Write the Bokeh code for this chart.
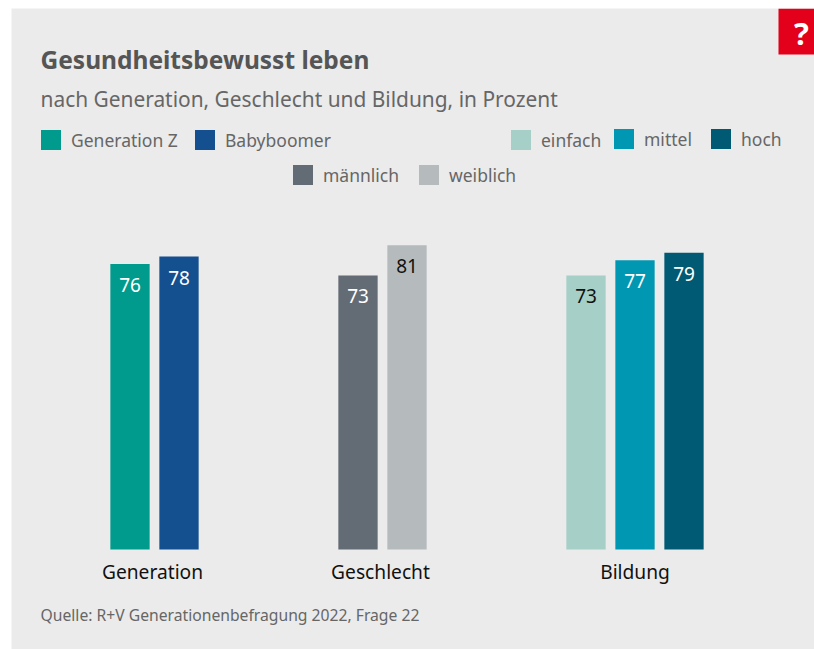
from bokeh.plotting import figure
from bokeh.models import Label, Legend, LegendItem, BoxAnnotation, ColumnDataSource, Range1d
from bokeh.core.properties import value
from bokeh.embed import file_html
from bokeh.resources import INLINE

FONT = "Noto Sans"
groups = ["Generation", "Geschlecht", "Bildung"]
group_names = [["Generation Z", "Babyboomer"], ["männlich", "weiblich"], ["einfach", "mittel", "hoch"]]
group_values = [[76, 78], [73, 81], [73, 77, 79]]
group_colors = [["#009B8C", "#144F8F"], ["#636B74", "#B5BABD"], ["#A5CFC7", "#0097B3", "#005A73"]]
value_colors = [["#FFFFFF", "#FFFFFF"], ["#FFFFFF", "#111111"], ["#111111", "#FFFFFF", "#FFFFFF"]]

title = "Gesundheitsbewusst leben"
subtitle = "nach Generation, Geschlecht und Bildung, in Prozent"
source_text = "Quelle: R+V Generationenbefragung 2022, Frage 22"

# layout, in image pixels
W, H = 814, 649
first_bar = [129.5, 357.5, 585.5]
pitch = 49
bar_w = 39.3
label_x = [152, 380, 634.5]
legend_pos = {"Generation Z": (41, 130), "Babyboomer": (195, 130), "einfach": (511, 130),
              "mittel": (614, 129), "hoch": (711, 129), "männlich": (293, 165), "weiblich": (419, 165)}
BASE = 549
PX = 3.755

p = figure(width=W, height=H, toolbar_location=None, output_backend="svg",
           x_range=Range1d(11, 814),
           y_range=Range1d(-(649 - BASE) / PX, (BASE - 8) / PX),
           min_border_left=11, min_border_right=0, min_border_top=8, min_border_bottom=0,
           background_fill_color="#EBEBEB", border_fill_color="#FFFFFF", outline_line_color=None)
p.xaxis.visible = False
p.yaxis.visible = False
p.grid.visible = False

def sy(page_y):
    return 649 - page_y

renderers = {}
for g, start in enumerate(first_bar):
    xs = [start + i * pitch for i in range(len(group_values[g]))]
    src = ColumnDataSource(dict(x=xs, top=group_values[g], color=group_colors[g], tc=value_colors[g],
                                label=[str(v) for v in group_values[g]], name=group_names[g]))
    r = p.vbar(x="x", top="top", bottom=0, width=bar_w, fill_color="color", line_color=None, source=src)
    for i, n in enumerate(group_names[g]):
        renderers[n] = (r, i)
    p.text(x="x", y="top", text="label", text_color="tc", source=src, text_align="center",
           text_baseline="middle", y_offset=21, text_font=value(FONT), text_font_size="19px")

for n, (x, y) in legend_pos.items():
    r, i = renderers[n]
    lg = Legend(items=[LegendItem(label=n, renderers=[r], index=i)],
                location=(x - 11 - 3, sy(y + 22)), orientation="horizontal",
                glyph_width=25, glyph_height=25, label_standoff=8, margin=0, padding=0,
                background_fill_alpha=0, border_line_color=None,
                label_text_font=FONT, label_text_font_size="17.5px", label_text_color="#666666",
                label_height=25)
    p.add_layout(lg)

def txt(t, x, y, size, color, style="normal", align="left"):
    p.add_layout(Label(x=x - 11, y=sy(y), x_units="screen", y_units="screen", text=t, text_font=FONT,
                       text_font_size=size, text_color=color, text_font_style=style,
                       text_align=align, text_baseline="alphabetic"))

txt(title, 40, 59, "24.5px", "#555555", "bold")
txt(subtitle, 40, 98, "20.9px", "#666666")
txt(source_text, 40, 614, "15.7px", "#666666")
for name, x in zip(groups, label_x):
    txt(name, x, 571, "19.2px", "#111111", align="center")

p.add_layout(BoxAnnotation(left=778 - 11, right=803, bottom=sy(54), top=sy(8),
                           left_units="screen", right_units="screen", bottom_units="screen", top_units="screen",
                           fill_color="#E2001A", fill_alpha=1, line_color=None))
txt("?", 801, 32.5, "31px", "#FFFFFF", "bold", "center")

open("out.html", "w").write(file_html(p, INLINE))
